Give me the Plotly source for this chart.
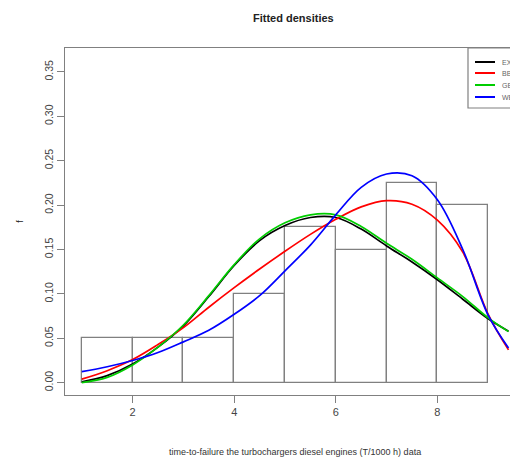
import plotly.graph_objects as go

# ---- data ----
bin_left = [1, 2, 3, 4, 5, 6, 7, 8]
bin_right = [2, 3, 4, 5, 6, 7, 8, 9]
hist_density = [0.05, 0.05, 0.05, 0.10, 0.175, 0.15, 0.225, 0.20]

x_grid = [1.0, 1.5, 2.0, 2.5, 3.0, 3.5, 4.0, 4.5, 5.0, 5.5, 6.0, 6.5, 7.0, 7.5, 8.0, 8.5, 9.0, 9.4]
ex_vals = [0.001, 0.008, 0.021, 0.040, 0.064, 0.097, 0.132, 0.160, 0.177, 0.186, 0.186, 0.173,
           0.154, 0.136, 0.116, 0.094, 0.072, 0.058]
bbx_vals = [0.004, 0.0135, 0.026, 0.043, 0.062, 0.085, 0.107, 0.128, 0.148, 0.167, 0.184, 0.198,
            0.205, 0.201, 0.183, 0.147, 0.077, 0.037]
gbx_vals = [0.000, 0.006, 0.020, 0.040, 0.065, 0.098, 0.133, 0.162, 0.180, 0.189, 0.189, 0.176,
            0.157, 0.139, 0.118, 0.097, 0.073, 0.0575]
wbx_vals = [0.0125, 0.018, 0.025, 0.034, 0.046, 0.059, 0.077, 0.098, 0.126, 0.155, 0.189, 0.220,
            0.235, 0.233, 0.206, 0.150, 0.076, 0.039]

series_names = ["EX", "BBX", "GBX", "WBX"]
series_colors = ["#000000", "#ff0000", "#00cd00", "#0000ff"]
series_vals = [ex_vals, bbx_vals, gbx_vals, wbx_vals]

x_ticks = [2, 4, 6, 8]
y_ticks = [0.00, 0.05, 0.10, 0.15, 0.20, 0.25, 0.30, 0.35]
y_tick_labels = ["0.00", "0.05", "0.10", "0.15", "0.20", "0.25", "0.30", "0.35"]

# ---- figure ----
# page body has an 8px margin, so the figure is drawn 8px in from the window corner
OFF = 8
W, H = 518 - OFF, 461 - OFF
ML, MR, MT, MB = 65 - OFF, 0, 48 - OFF, 461 - 395
PW, PH = W - ML - MR, H - MT - MB

fig = go.Figure()

centers = [(a + b) / 2 for a, b in zip(bin_left, bin_right)]
widths = [b - a for a, b in zip(bin_left, bin_right)]
fig.add_trace(go.Bar(
    x=centers, y=hist_density, width=widths,
    marker=dict(color="white", line=dict(color="#808080", width=1.3)),
    showlegend=False, hoverinfo="skip"))

for name, col, vals in zip(series_names, series_colors, series_vals):
    fig.add_trace(go.Scatter(
        x=x_grid, y=vals, mode="lines", name=name,
        line=dict(color=col, width=1.7, shape="spline", smoothing=1.0),
        showlegend=False))

axis_col = "#808080"
text_col = "#444444"
font_family = "Liberation Sans, Arial, sans-serif"

fig.update_layout(
    width=W, height=H,
    margin=dict(l=ML, r=MR, t=MT, b=MB),
    paper_bgcolor="white", plot_bgcolor="white",
    font=dict(family=font_family, color=text_col, size=10),
    bargap=0,
    xaxis=dict(range=[0.669, 9.587], tickvals=x_ticks, ticktext=[str(v) for v in x_ticks],
               showgrid=False, zeroline=False, showline=True, linecolor=axis_col, linewidth=1.3,
               mirror=True, ticks="outside", ticklen=7, tickcolor=axis_col, tickwidth=1.3,
               tickfont=dict(size=11, color=text_col)),
    yaxis=dict(range=[-0.01385, 0.3769], tickvals=y_ticks, ticktext=y_tick_labels,
               showgrid=False, zeroline=False, showline=True, linecolor=axis_col, linewidth=1.3,
               mirror=False, ticks="outside", ticklen=7, tickcolor=axis_col, tickwidth=1.3,
               tickangle=-90, tickfont=dict(size=10.5, color=text_col),
               title=dict(text="f", font=dict(size=9, color="#222222"), standoff=17)),
)

def px_x(p):
    # p is a window pixel x
    return (p - OFF - ML) / PW

def px_y(p):
    # p is a window pixel y
    return (H - MB - (p - OFF)) / PH

# title
fig.add_annotation(text="<b>Fitted densities</b>", xref="paper", yref="paper",
                   x=px_x(293), y=px_y(18), showarrow=False, xanchor="center", yanchor="middle",
                   font=dict(size=11, color="#222222", family=font_family))
# x axis title
fig.add_annotation(text="time-to-failure the turbochargers diesel engines (T/1000 h) data",
                   xref="paper", yref="paper", x=px_x(295), y=px_y(452), showarrow=False,
                   xanchor="center", yanchor="middle",
                   font=dict(size=9, color="#333333", family=font_family))

# legend box (manual, like R's legend())
fig.add_shape(type="rect", xref="paper", yref="paper",
              x0=px_x(468), x1=px_x(540), y0=px_y(108), y1=px_y(48),
              line=dict(color=axis_col, width=1.2), fillcolor="white", layer="above")
leg_y = [62, 73, 85, 97]
for name, col, yy in zip(series_names, series_colors, leg_y):
    fig.add_shape(type="line", xref="paper", yref="paper",
                  x0=px_x(475), x1=px_x(495), y0=px_y(yy), y1=px_y(yy),
                  line=dict(color=col, width=2), layer="above")
    fig.add_annotation(text=name, xref="paper", yref="paper", x=px_x(500), y=px_y(yy),
                       showarrow=False, xanchor="left", yanchor="middle",
                       font=dict(size=7, color="#666666", family=font_family))

fig.write_html("out.html")
